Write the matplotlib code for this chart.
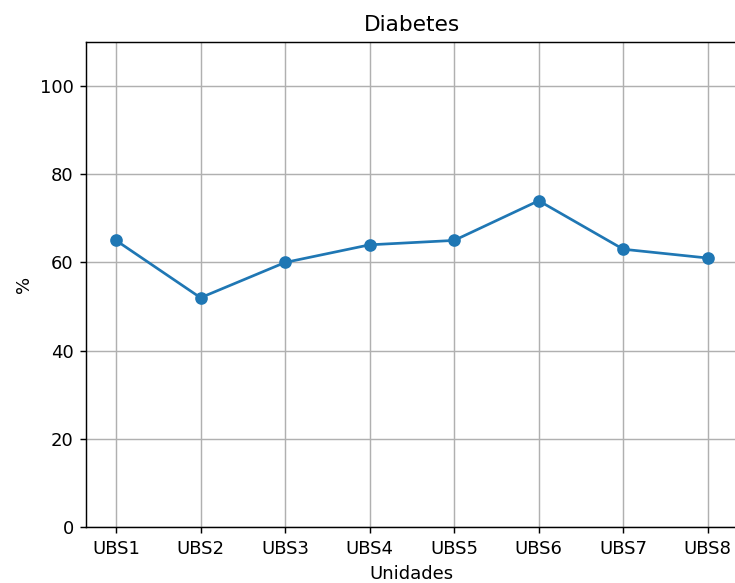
import matplotlib
matplotlib.use("Agg")
import matplotlib.pyplot as plt

# Percentual de diabetes por unidade
unidades = ["UBS1", "UBS2", "UBS3", "UBS4", "UBS5", "UBS6", "UBS7", "UBS8"]
percentual = [65, 52, 60, 64, 65, 74, 63, 61]

dpi = 130
fig = plt.figure(figsize=(735 / dpi, 583 / dpi), dpi=dpi)
ax = fig.add_axes([86.4 / 735, 56 / 583, 651 / 735, 485 / 583])

ax.plot(unidades, percentual, marker="o")
ax.set_ylim(0, 110)
ax.set_title("Diabetes")
ax.set_xlabel("Unidades")
ax.set_ylabel("%")
ax.grid(True)

fig.savefig("out.png", dpi=dpi)
